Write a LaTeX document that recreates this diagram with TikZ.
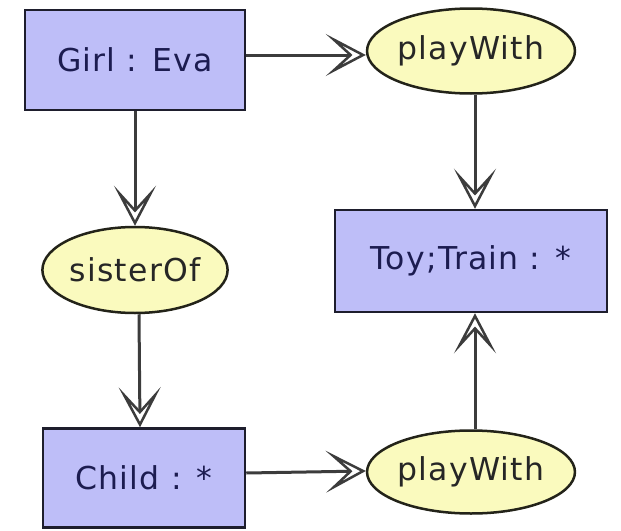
\documentclass[tikz,border=0pt]{standalone}
\usepackage{fontspec}
\setmainfont{DejaVu Sans}
\newfontfamily\labelfont[LetterSpace=4]{DejaVu Sans}
\usetikzlibrary{arrows.meta,shapes.geometric}
\definecolor{boxfill}{RGB}{190,190,248}
\definecolor{boxline}{RGB}{30,30,45}
\definecolor{boxtext}{RGB}{28,28,80}
\definecolor{relfill}{RGB}{250,250,190}
\definecolor{relline}{RGB}{35,35,25}
\definecolor{linkgray}{RGB}{60,60,60}
\begin{document}
\begin{tikzpicture}[x=1pt,y=-1pt,
  concept/.style={draw=boxline, fill=boxfill, line width=2.5pt, inner sep=0pt,
    text=boxtext, font=\labelfont\fontsize{31.5}{36}\selectfont},
  relation/.style={ellipse, draw=relline, fill=relfill, line width=2.5pt, inner sep=0pt,
    text=black!85, font=\labelfont\fontsize{31.5}{36}\selectfont},
  link/.style={draw=linkgray, line width=3pt,
    -{Stealth[open, length=40pt, width=42pt, inset=23pt, line width=2.5pt]}}
]
\fill[white] (0,0) rectangle (621,530);

% concept boxes
\node[concept, minimum width=220pt, minimum height=100pt] (girl)  at (135,60)  {Girl : Eva};
\node[concept, minimum width=272pt, minimum height=102pt] (toy)   at (471,261) {Toy;Train : *};
\node[concept, minimum width=202pt, minimum height=99pt]  (child) at (144,478) {Child : *};

% relation ellipses
\node[relation, minimum width=202pt, minimum height=85pt] (play1)  at (471,51)  {playWith};
\node[relation, minimum width=185pt, minimum height=86pt] (sister) at (135,270) {sisterOf};
\node[relation, minimum width=202pt, minimum height=83pt] (play2)  at (471,472) {playWith};

% connectors
\draw[link] ([yshift=5pt]girl.east) -- ([yshift=-4pt]play1.west);
\draw[link] (girl.south) -- (sister.north);
\draw[link] ([xshift=4pt]sister.south) -- ([xshift=-4pt]child.north);
\draw[link] ([xshift=4pt]play1.south) -- ([xshift=4pt]toy.north);
\draw[link] ([yshift=5pt]child.east) -- ([yshift=1pt]play2.west);
\draw[link] ([xshift=4pt]play2.north) -- ([xshift=4pt]toy.south);
\end{tikzpicture}
\end{document}
